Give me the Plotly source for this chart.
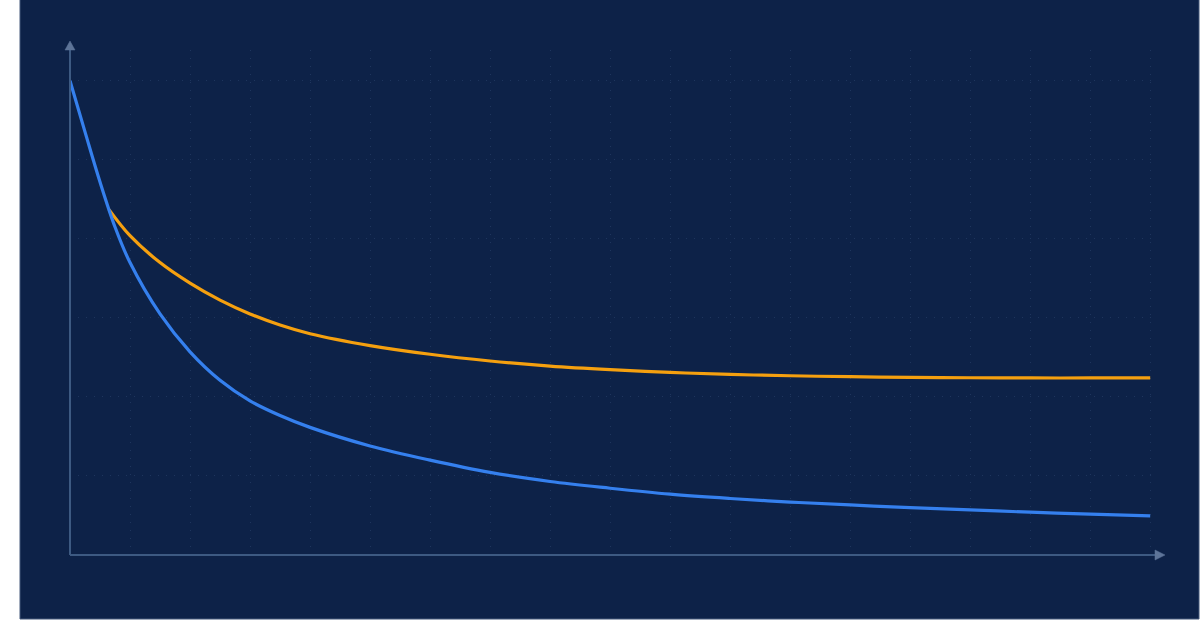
import plotly.graph_objects as go

# ---- data ----
blue_x = [0, 0.25, 0.5, 0.75, 1, 1.5, 2, 2.5, 3, 3.5, 4, 5, 6, 7, 8, 9, 10, 11, 12, 13, 14, 15, 16, 17, 18]
blue_y = [6.0, 5.354, 4.72, 4.15, 3.70, 3.05, 2.57, 2.21, 1.95, 1.765, 1.615, 1.38, 1.20, 1.045,
          0.93, 0.845, 0.77, 0.715, 0.67, 0.633, 0.60, 0.57, 0.542, 0.517, 0.494]

orange_x = [0.65, 1, 1.5, 2, 2.5, 3, 3.5, 4, 5, 6, 7, 8, 9, 10, 11, 12, 13, 14, 15, 16, 17, 18]
orange_y = [4.37, 4.04, 3.70, 3.44, 3.225, 3.05, 2.91, 2.80, 2.65, 2.54, 2.455, 2.39, 2.345,
            2.31, 2.285, 2.268, 2.256, 2.248, 2.243, 2.24, 2.24, 2.24]

x_range = [0, 18.08]
y_range = [0, 6.39]

BG = "#0d2248"
AXIS = "#3d5a82"
ARROW = "#5d7498"
GRID = "rgba(90,125,170,0.22)"

fig = go.Figure()
fig.add_trace(go.Scatter(x=orange_x, y=orange_y, mode="lines",
                         line=dict(color="#f5a00f", width=3.2, shape="spline", smoothing=1.0),
                         hoverinfo="skip"))
fig.add_trace(go.Scatter(x=blue_x, y=blue_y, mode="lines",
                         line=dict(color="#3580ee", width=3.2, shape="spline", smoothing=1.0),
                         hoverinfo="skip"))

# pixel -> paper helpers (plot area spans x 70..1155, y 555..50)
def px(xp):
    return (xp - 70) / 1085

def py(yp):
    return (555 - yp) / 505

# dark panel background
fig.add_shape(type="rect", xref="paper", yref="paper",
              x0=px(20), x1=px(1199), y0=py(619), y1=py(-2),
              fillcolor=BG, line=dict(color="#44597a", width=1), layer="below")

# axis lines and arrows
fig.add_shape(type="line", xref="paper", yref="paper",
              x0=px(70), x1=px(1157), y0=py(555), y1=py(555),
              line=dict(color=AXIS, width=2))
fig.add_shape(type="line", xref="paper", yref="paper",
              x0=px(70), x1=px(70), y0=py(555), y1=py(48),
              line=dict(color=AXIS, width=2))
fig.add_shape(type="path", xref="paper", yref="paper",
              path=f"M {px(1155)},{py(550)} L {px(1165)},{py(555)} L {px(1155)},{py(560)} Z",
              fillcolor=ARROW, line=dict(color=ARROW, width=0.5))
fig.add_shape(type="path", xref="paper", yref="paper",
              path=f"M {px(65)},{py(50)} L {px(70)},{py(41)} L {px(75)},{py(50)} Z",
              fillcolor=ARROW, line=dict(color=ARROW, width=0.5))

fig.update_layout(
    width=1200, height=630,
    margin=dict(l=70, r=45, t=50, b=75),
    paper_bgcolor="white",
    plot_bgcolor="rgba(0,0,0,0)",
    showlegend=False,
    xaxis=dict(range=x_range, dtick=1, tick0=0, showticklabels=False, ticks="",
               showgrid=True, gridcolor=GRID, griddash="1px,7px", gridwidth=1,
               zeroline=False, showline=False, fixedrange=True),
    yaxis=dict(range=y_range, dtick=1, tick0=0, showticklabels=False, ticks="",
               showgrid=True, gridcolor=GRID, griddash="1px,7px", gridwidth=1,
               zeroline=False, showline=False, fixedrange=True),
)

fig.write_html("out.html", config={"displayModeBar": False},
               post_script="document.body.style.margin='0';")
